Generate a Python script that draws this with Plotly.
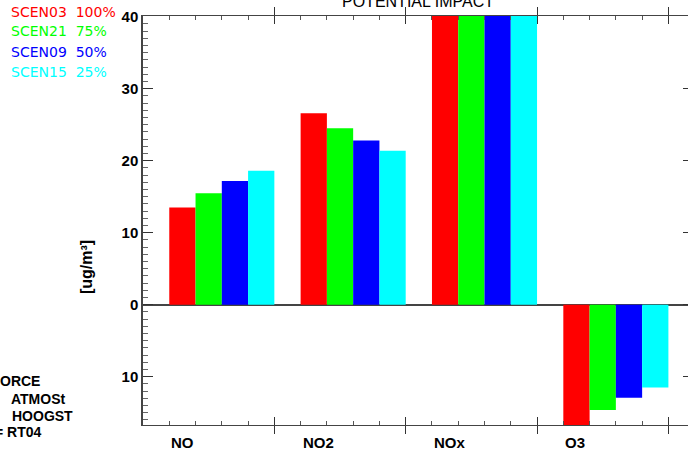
import plotly.graph_objects as go

categories = ["NO", "NO2", "NOx", "O3"]
scenarios = ["SCEN03", "SCEN21", "SCEN09", "SCEN15"]
scen_pct = ["100%", "75%", "50%", "25%"]
colors = ["#FF0000", "#00FF00", "#0000FF", "#00FFFF"]

scen03 = [13.5, 26.6, 52.0, -18.0]
scen21 = [15.5, 24.5, 49.0, -14.6]
scen09 = [17.2, 22.8, 46.0, -12.9]
scen15 = [18.6, 21.4, 43.0, -11.5]
series = [scen03, scen21, scen09, scen15]

ytick_vals = [-10, 0, 10, 20, 30, 40]
ytick_text = ["10", "0", "10", "20", "30", "40"]

side_notes = ["ORCE", "ATMOSt", "HOOGST", "= RT04"]

W, H = 688, 454
L, T, B = 143, 16, 29
PW, PH = W - L, H - T - B
UNIT = 26.27
XMAX = PW / UNIT
YMIN, YMAX = -16.7, 40.1

y_minor = [v for v in range(-16, 41) if v % 10 != 0]
x_minor = [v for v in range(0, 21) if v % 5 != 0]


def xp(px):
    return (px - L) / PW


def yp(py):
    return 1 - (py - T) / PH


fig = go.Figure()
for j, (name, vals, col) in enumerate(zip(scenarios, series, colors)):
    xs = [5 * i + 1.5 + j for i in range(len(categories))]
    fig.add_trace(go.Bar(x=xs, y=vals, width=1, marker=dict(color=col, line=dict(width=0)),
                         name=name, showlegend=False))

# dummy traces so overlay tick axes get drawn
for xa, ya in [("x", "y2"), ("x", "y3"), ("x2", "y")]:
    fig.add_trace(go.Scatter(x=[0], y=[0], xaxis=xa, yaxis=ya, mode="markers",
                             marker=dict(opacity=0), showlegend=False, hoverinfo="skip"))

font_axis = dict(family="Liberation Sans, Arial", size=15, color="#000", weight="bold")

fig.update_layout(
    width=W, height=H, autosize=False,
    margin=dict(l=L, r=0, t=T, b=B, pad=0),
    paper_bgcolor="white", plot_bgcolor="white",
    barmode="overlay",
    showlegend=False,
    xaxis=dict(range=[0, XMAX], showgrid=False, zeroline=False,
               showline=True, linecolor="#444", linewidth=1, mirror="allticks",
               ticks="inside", tickmode="linear", tick0=0, dtick=5, ticklen=8,
               tickcolor="#333", tickwidth=1, showticklabels=False),
    xaxis2=dict(overlaying="x", matches="x", side="bottom", anchor="y", showgrid=False,
                zeroline=False, showline=False, mirror="ticks",
                ticks="inside", tickmode="array", tickvals=x_minor, ticklen=4,
                tickcolor="#555", tickwidth=1, showticklabels=False),
    yaxis=dict(range=[YMIN, YMAX], showgrid=False,
               zeroline=True, zerolinecolor="#444", zerolinewidth=1.5,
               showline=True, linecolor="#444", linewidth=1.5, mirror=False,
               ticks="inside", tickmode="array", tickvals=ytick_vals, ticktext=ytick_text,
               ticklen=10, tickcolor="#333", tickwidth=1,
               tickfont=font_axis),
    yaxis2=dict(overlaying="y", side="right", matches="y", showgrid=False, zeroline=False,
                showline=False, ticks="inside", tickmode="array", tickvals=ytick_vals,
                ticklen=5, tickcolor="#333", showticklabels=False),
    yaxis3=dict(overlaying="y", side="left", matches="y", showgrid=False, zeroline=False,
                showline=False, ticks="inside", tickmode="array", tickvals=y_minor,
                ticklen=5, tickcolor="#666", tickwidth=1, showticklabels=False),
)

ann = []
# title
ann.append(dict(text="POTENTIAL IMPACT", x=xp(418.5), y=yp(2), xref="paper", yref="paper",
                xanchor="center", yanchor="middle", showarrow=False,
                font=dict(family="Liberation Sans, Arial", size=16, color="#000")))
# scenario legend text
leg_y = [12, 31, 52, 72]
for name, pct, col, py in zip(scenarios, scen_pct, colors, leg_y):
    ann.append(dict(text=f"{name}  {pct}", x=xp(9), y=yp(py), xref="paper", yref="paper",
                    xanchor="left", yanchor="middle", showarrow=False,
                    font=dict(family="DejaVu Sans", size=14, color=col)))
# side notes bottom left
note_pos = [(-2, 381), (9, 399), (10, 416), (-7, 432)]
for txt, (px, py) in zip(side_notes, note_pos):
    ann.append(dict(text=txt, x=xp(px), y=yp(py), xref="paper", yref="paper",
                    xanchor="left", yanchor="middle", showarrow=False,
                    font=dict(family="Liberation Sans, Arial", size=14, color="#000", weight="bold")))
# y axis title
ann.append(dict(text="[ug/m³]", x=xp(86), y=yp(267), xref="paper", yref="paper",
                xanchor="center", yanchor="middle", textangle=-90, showarrow=False,
                font=dict(family="Liberation Sans, Arial", size=16, color="#000", weight="bold")))
# category labels
for i, c in enumerate(categories):
    ann.append(dict(text=c, x=5 * i + 1, y=yp(442), xref="x", yref="paper",
                    xanchor="left", yanchor="middle", showarrow=False, font=font_axis))

fig.update_layout(annotations=ann)
fig.write_html("out.html")
